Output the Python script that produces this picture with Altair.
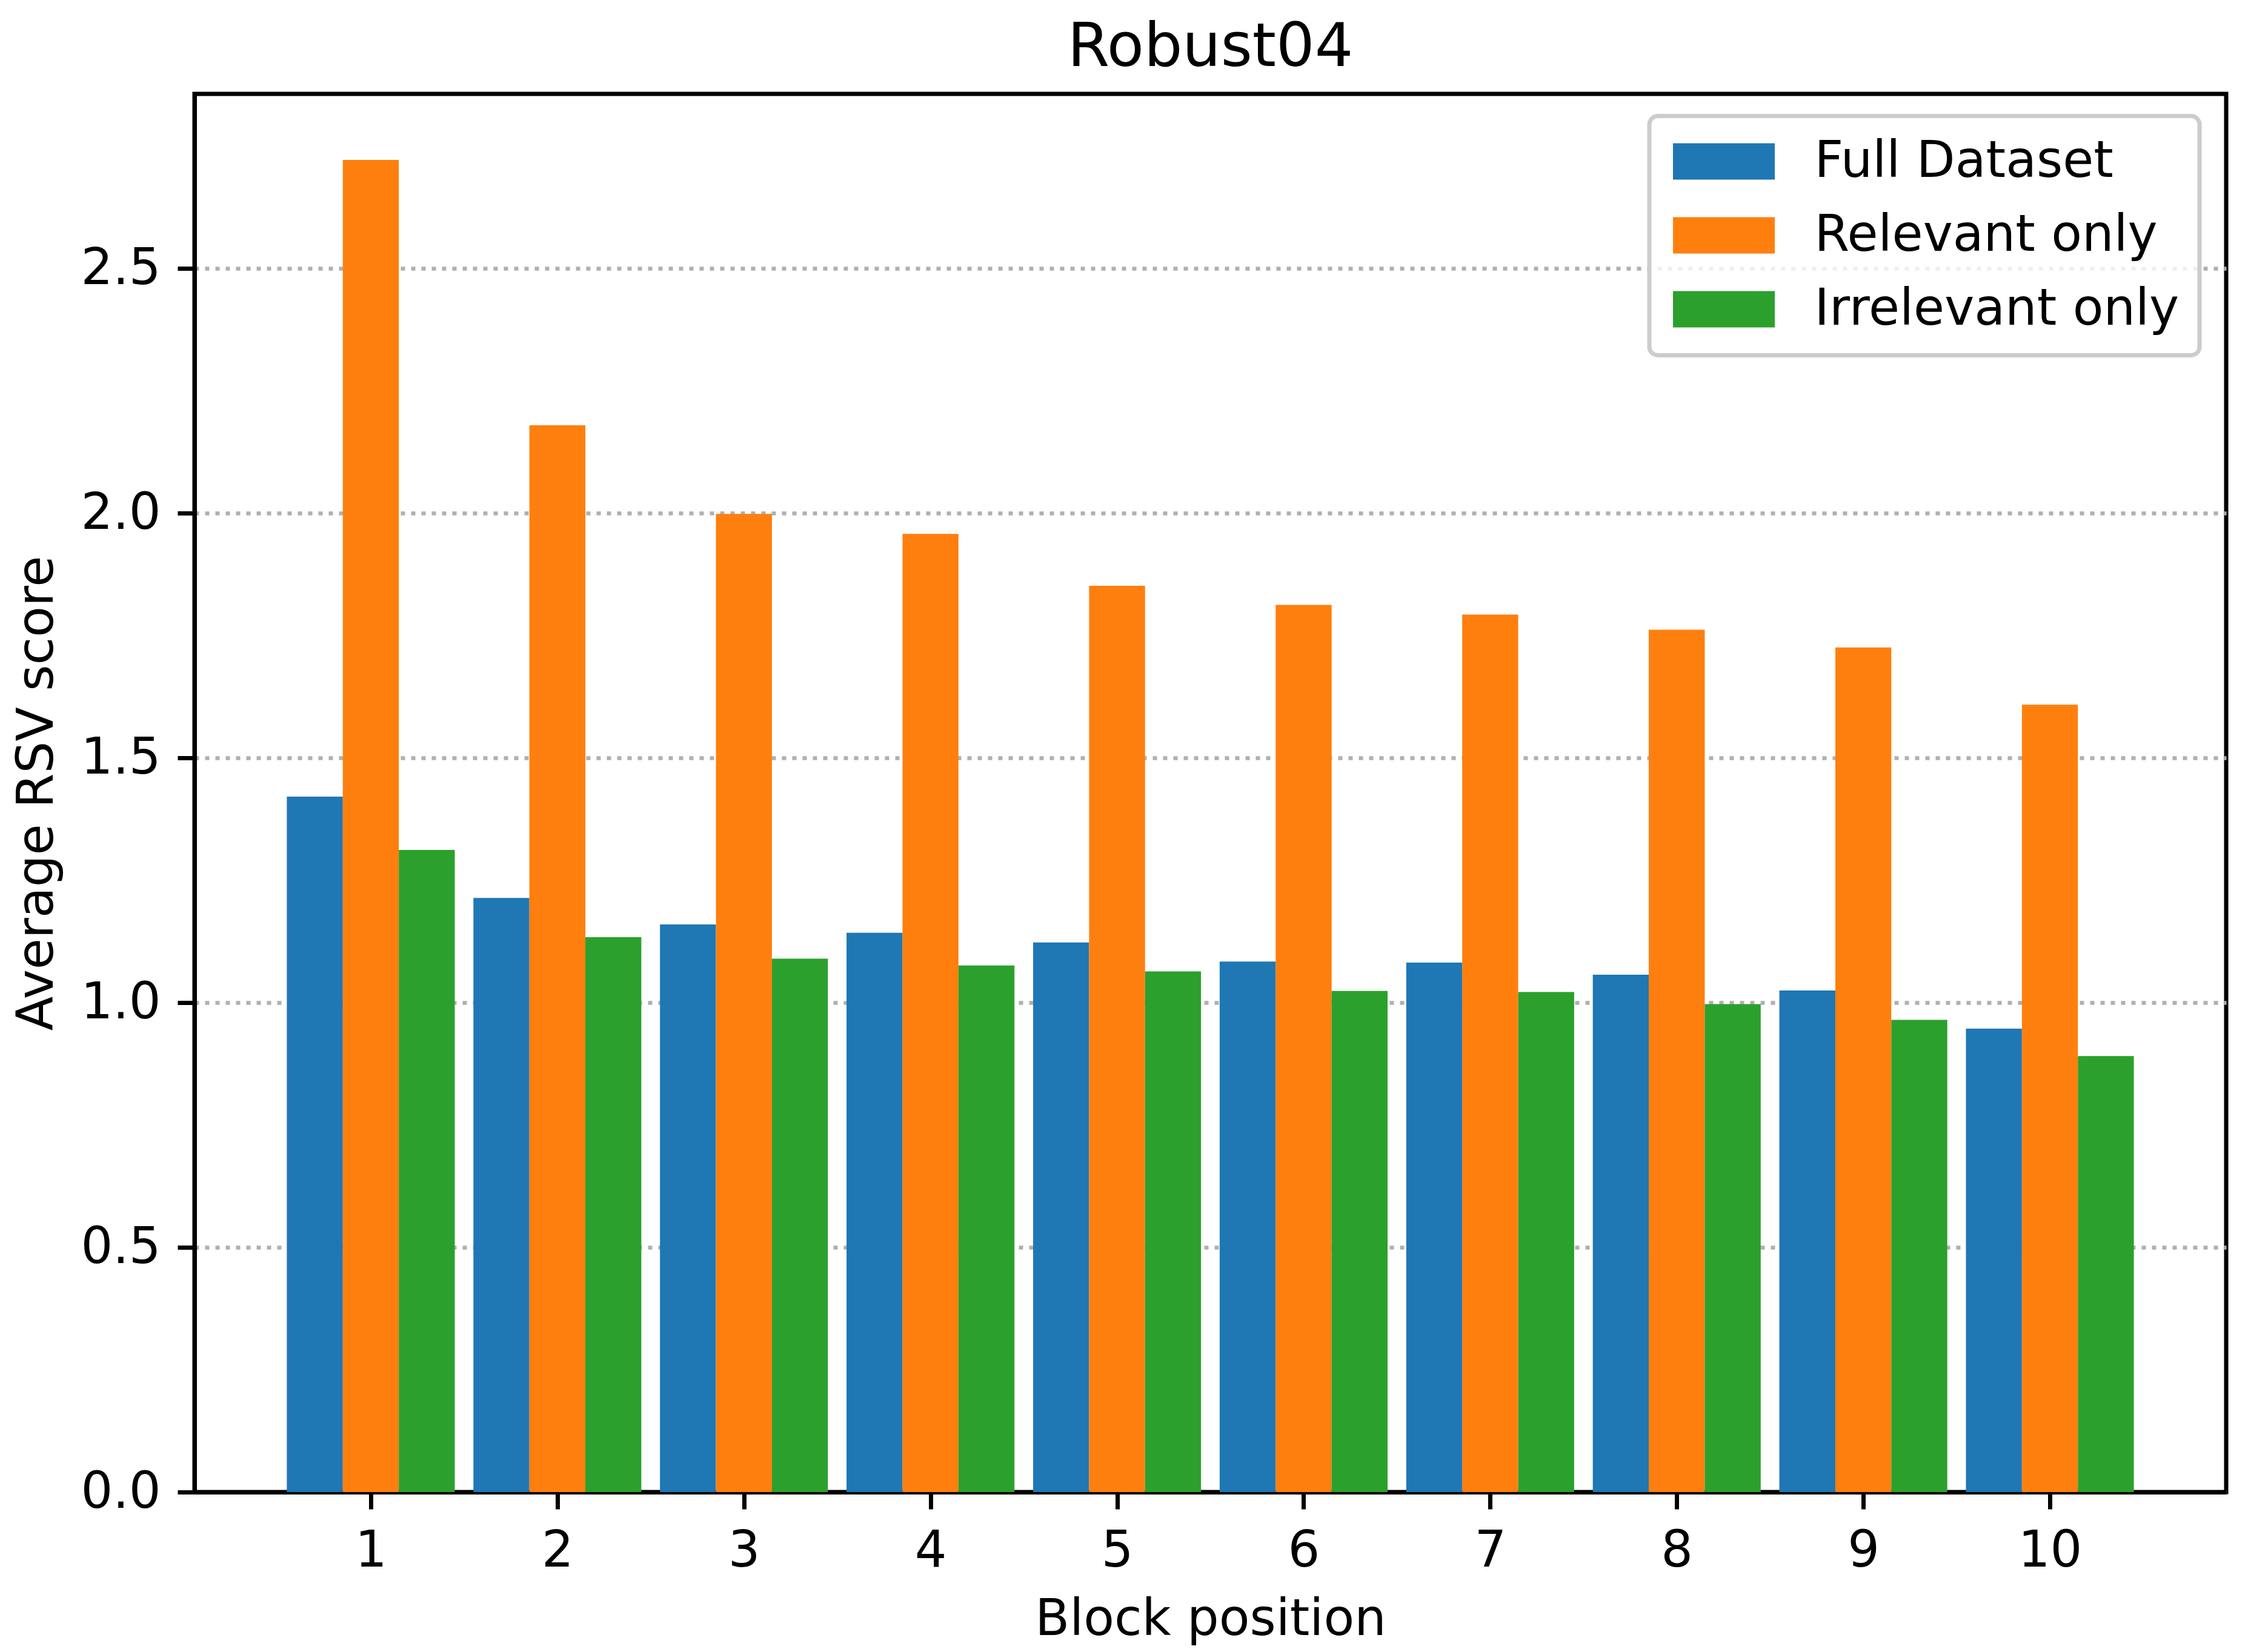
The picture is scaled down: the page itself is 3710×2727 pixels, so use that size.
import altair as alt
import pandas as pd

blocks = [1, 2, 3, 4, 5, 6, 7, 8, 9, 10]
series_names = ["Full Dataset", "Relevant only", "Irrelevant only"]
full_dataset = [1.421, 1.214, 1.160, 1.143, 1.123, 1.084, 1.082, 1.057, 1.025, 0.947]
relevant_only = [2.722, 2.180, 1.999, 1.958, 1.852, 1.813, 1.793, 1.762, 1.726, 1.609]
irrelevant_only = [1.312, 1.134, 1.090, 1.076, 1.064, 1.024, 1.022, 0.997, 0.965, 0.891]
colors = ["#1f77b4", "#ff7f0e", "#2ca02c"]
y_ticks = [0.0, 0.5, 1.0, 1.5, 2.0, 2.5]

rows = []
for idx, (name, vals) in enumerate(zip(series_names, [full_dataset, relevant_only, irrelevant_only])):
    for b, v in zip(blocks, vals):
        rows.append({"block": b, "series": name, "order": idx, "value": v})
df = pd.DataFrame(rows)

bar_width = 0.3
FONT = "DejaVu Sans"
FS = 83

chart = (
    alt.Chart(df)
    .transform_calculate(
        x0=f"datum.block - 0.45 + datum.order * {bar_width}",
        x1=f"datum.block - 0.45 + (datum.order + 1) * {bar_width}",
        base="0",
    )
    .mark_bar(strokeWidth=0)
    .encode(
        x=alt.X(
            "x0:Q",
            scale=alt.Scale(domain=[0.055, 10.945], nice=False, zero=False),
            axis=alt.Axis(values=blocks, format="d", title="Block position", grid=False),
        ),
        x2="x1:Q",
        y=alt.Y(
            "value:Q",
            scale=alt.Scale(domain=[0, 2.857], nice=False),
            axis=alt.Axis(values=y_ticks, format=".1f", title="Average RSV score", grid=True),
        ),
        y2="base:Q",
        color=alt.Color(
            "series:N",
            scale=alt.Scale(domain=series_names, range=colors),
            legend=alt.Legend(
                title=None,
                orient="none",
                legendX=2401,
                legendY=36.5,
                symbolType="M-2.8,-1H2.8V1H-2.8Z",
                symbolSize=3600,
                symbolOffset=48,
                labelOffset=108,
                labelFontSize=FS,
                labelFont=FONT,
                labelColor="black",
                labelLimit=2000,
                padding=33.5,
                rowPadding=38,
                fillColor="rgba(255,255,255,0.8)",
                strokeColor="#cccccc",
                cornerRadius=14,
                symbolStrokeWidth=0,
                symbolOpacity=1,
            ),
        ),
    )
    .properties(
        width=3353,
        height=2308,
        title=alt.TitleParams(
            "Robust04",
            fontSize=100,
            font=FONT,
            fontWeight="normal",
            color="black",
            anchor="middle",
            baseline="top",
            offset=25,
        ),
        autosize=alt.AutoSizeParams(type="none"),
        padding={"left": 313, "top": 147, "right": 28, "bottom": 256},
    )
    .configure_view(stroke="black", strokeWidth=7)
    .configure_legend(strokeWidth=7)
    .configure_axis(
        labelFont=FONT,
        titleFont=FONT,
        labelFontSize=FS,
        titleFontSize=FS,
        labelColor="black",
        titleColor="black",
        titleFontWeight="normal",
        domainColor="black",
        domainWidth=7,
        tickColor="black",
        tickWidth=7,
        tickSize=28,
        labelPadding=28,
        titlePadding=30,
        gridColor="#b0b0b0",
        gridWidth=6.4,
        gridDash=[7, 10],
        zindex=1,
    )
)

chart.save("out.html", embed_options={"renderer": "svg", "actions": False})
